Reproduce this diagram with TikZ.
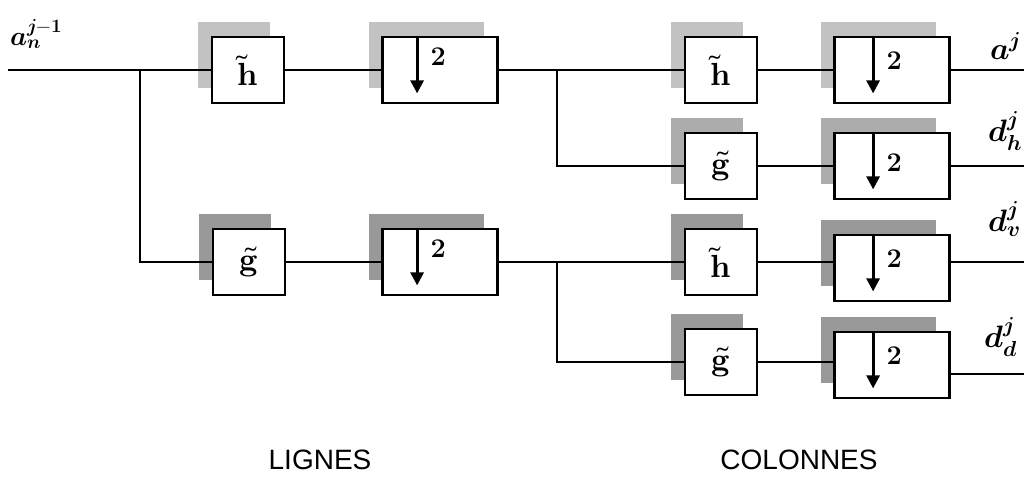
\documentclass[tikz,border=0pt]{standalone}
\usepackage{fontspec}
\usepackage{unicode-math}
\setsansfont{Liberation Sans}
\usetikzlibrary{arrows.meta,positioning,shadows}

\begin{document}
\begin{tikzpicture}[
  x=1pt, y=-1pt,
  filt/.style={draw, line width=2.8pt, fill=white, minimum width=72pt, minimum height=66pt, inner sep=0pt, font=\fontsize{32}{34}\selectfont},
  down/.style={filt, minimum width=115pt},
  shlight/.style={drop shadow={shadow xshift=-14pt, shadow yshift=15pt, fill=gray!48, opacity=1}},
  shmid/.style={drop shadow={shadow xshift=-14pt, shadow yshift=15pt, fill=gray!65, opacity=1}},
  shdark/.style={drop shadow={shadow xshift=-14pt, shadow yshift=15pt, fill=gray!80, opacity=1}},
  wire/.style={line width=2.8pt},
  dec/.style={-{Triangle[length=13pt, width=13pt]}, line width=2.8pt},
  two/.style={font=\fontsize{27}{29}\selectfont, inner sep=0pt},
  lab/.style={font=\fontsize{31}{33}\selectfont, inner sep=0pt},
  title/.style={font=\sffamily\fontsize{28}{30}\selectfont}
]
\useasboundingbox (0,0) rectangle (1024,476);

% lignes
\node[filt, shlight] (hL) at (248,70) {$\tilde{\symbfup{h}}$};
\node[down, shlight] (dL1) at (440,70) {};
\node[filt, shdark] (gL) at (249,262) {$\tilde{\symbfup{g}}$};
\node[down, shdark] (dL2) at (440,262) {};

% colonnes
\node[filt, shlight] (hC1) at (721,70) {$\tilde{\symbfup{h}}$};
\node[down, shlight] (dC1) at (892,70) {};
\node[filt, shmid] (gC1) at (721,166) {$\tilde{\symbfup{g}}$};
\node[down, shmid] (dC2) at (892,166) {};
\node[filt, shdark] (hC2) at (721,262) {$\tilde{\symbfup{h}}$};
\node[down, shdark] (dC3) at (892,268) {};
\node[filt, shdark] (gC2) at (721,362) {$\tilde{\symbfup{g}}$};
\node[down, shdark] (dC4) at (892,365) {};

% decimation arrows
\draw[dec] ([xshift=36pt]dL1.north west) -- ([xshift=36pt,yshift=11pt]dL1.south west);
\node[two] (dL1-two) at ([xshift=57pt,yshift=-21pt]dL1.north west) {$\mathbf{2}$};
\draw[dec] ([xshift=36pt]dL2.north west) -- ([xshift=36pt,yshift=11pt]dL2.south west);
\node[two] (dL2-two) at ([xshift=57pt,yshift=-21pt]dL2.north west) {$\mathbf{2}$};
\draw[dec] ([xshift=40pt]dC1.north west) -- ([xshift=40pt,yshift=11pt]dC1.south west);
\node[two] (dC1-two) at ([xshift=61pt,yshift=-25pt]dC1.north west) {$\mathbf{2}$};
\draw[dec] ([xshift=40pt]dC2.north west) -- ([xshift=40pt,yshift=11pt]dC2.south west);
\node[two] (dC2-two) at ([xshift=61pt,yshift=-31pt]dC2.north west) {$\mathbf{2}$};
\draw[dec] ([xshift=40pt]dC3.north west) -- ([xshift=40pt,yshift=11pt]dC3.south west);
\node[two] (dC3-two) at ([xshift=61pt,yshift=-25pt]dC3.north west) {$\mathbf{2}$};
\draw[dec] ([xshift=40pt]dC4.north west) -- ([xshift=40pt,yshift=11pt]dC4.south west);
\node[two] (dC4-two) at ([xshift=61pt,yshift=-25pt]dC4.north west) {$\mathbf{2}$};

% signals
\node[lab, anchor=west, font=\fontsize{27}{29}\selectfont] (ain) at (10,34) {$\symbfit{a}_{\symbfit{n}}^{\symbfit{j}\mathbf{-1}}$};
\node[lab, anchor=west] (aout) at (990,46) {$\symbfit{a}^{\symbfit{j}}$};
\node[lab, anchor=west] (dh) at (988,131) {$\symbfit{d}_{\symbfit{h}}^{\symbfit{j}}$};
\node[lab, anchor=west] (dv) at (988,219) {$\symbfit{d}_{\symbfit{v}}^{\symbfit{j}}$};
\node[lab, anchor=west] (dd) at (984,337) {$\symbfit{d}_{\symbfit{d}}^{\symbfit{j}}$};

\coordinate (in) at (8,70);
\coordinate (bL) at (140,70);
\coordinate (bC1) at (557,70);
\coordinate (bC2) at (557,262);
\coordinate (oA) at (1024,70);
\coordinate (oH) at (1024,166);
\coordinate (oV) at (1024,262);
\coordinate (oD) at (1024,374);

\draw[wire] (in) -- (hL);
\draw[wire] (bL) |- (gL);
\draw[wire] (hL) -- (dL1);
\draw[wire] (gL) -- (dL2);
\draw[wire] (dL1) -- (hC1);
\draw[wire] (dL2) -- (hC2);
\draw[wire] (bC1) |- (gC1);
\draw[wire] (bC2) |- (gC2);
\draw[wire] (hC1) -- (dC1);
\draw[wire] (gC1) -- (dC2);
\draw[wire] (hC2) -- (hC2 -| dC3.west);
\draw[wire] (gC2) -- (gC2 -| dC4.west);
\draw[wire] (dC1) -- (oA);
\draw[wire] (dC2) -- (oH);
\draw[wire] (hC2 -| dC3.east) -- (oV);
\draw[wire] ([yshift=-9pt]dC4.east) -- (oD);

\node[title] (lignes) at (320,460) {LIGNES};
\node[title] (colonnes) at (799,460) {COLONNES};
\end{tikzpicture}
\end{document}
